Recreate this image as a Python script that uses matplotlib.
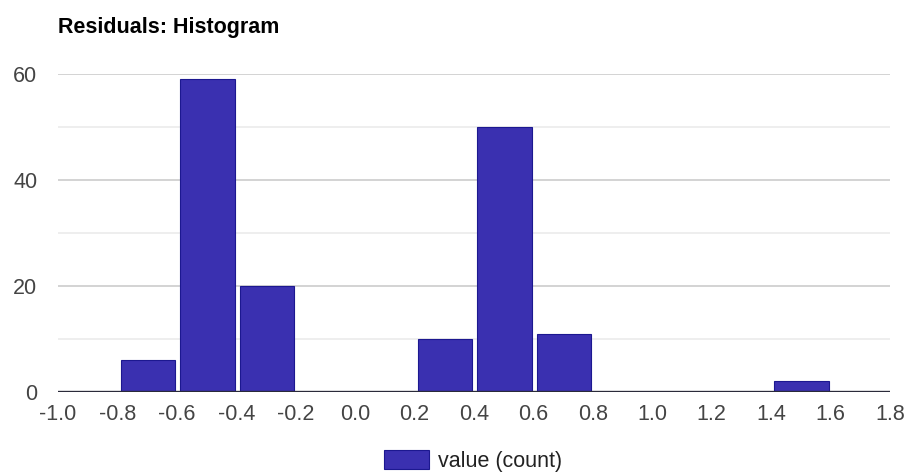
#!/usr/bin/env python3
"""Residuals histogram, Google Charts look."""

import matplotlib
matplotlib.use('Agg')
from matplotlib import pyplot as plt
from matplotlib.patches import Patch
import numpy as np

bin_edges = [-1.0, -0.8, -0.6, -0.4, -0.2, 0.0, 0.2, 0.4, 0.6, 0.8, 1.0, 1.2, 1.4, 1.6]
counts = [0, 6, 59, 20, 0, 0, 10, 50, 11, 0, 0, 0, 2, 0]
x_ticks = [-1.0, -0.8, -0.6, -0.4, -0.2, 0.0, 0.2, 0.4, 0.6, 0.8, 1.0, 1.2, 1.4, 1.6, 1.8]
y_major = [0, 20, 40, 60]
y_minor = [10, 30, 50]


def main():
    plt.rcParams['font.family'] = ['Liberation Sans', 'DejaVu Sans']
    fig = plt.figure(figsize=(9.1, 4.75), dpi=100)
    ax = fig.add_axes([58 / 910, 83 / 475, 832 / 910, 318 / 475])

    fill = '#3a30b0'
    edge = '#1c1890'
    lefts = np.array(bin_edges) + 0.011
    heights = np.array(counts)
    mask = heights > 0
    ax.bar(lefts[mask], heights[mask], width=0.183, align='edge',
           color=fill, edgecolor=edge, linewidth=0.8, zorder=3)

    ax.set_xlim(-1.0, 1.8)
    ax.set_ylim(0, 60)
    ax.set_xticks(x_ticks)
    ax.set_xticklabels(['{:.1f}'.format(v) for v in x_ticks])
    ax.set_yticks(y_major)
    ax.set_yticks(y_minor, minor=True)

    for v in y_major[1:]:
        ax.axhline(v, color='#cccccc', linewidth=1.2, zorder=1)
    for v in y_minor:
        ax.axhline(v, color='#ebebeb', linewidth=1.2, zorder=1)
    ax.axhline(0, color='#2a2a3a', linewidth=2.4, zorder=4)

    for side in ['top', 'right', 'left', 'bottom']:
        ax.spines[side].set_visible(False)
    ax.tick_params(axis='both', which='both', length=0, labelsize=15.5,
                   labelcolor='#444444')
    ax.tick_params(axis='x', pad=9)
    ax.tick_params(axis='y', pad=15)

    fig.text(58 / 910, 1 - 28 / 475, 'Residuals: Histogram', fontsize=15.5,
             fontweight='bold', color='#000000', va='center', ha='left')

    handle = Patch(facecolor=fill, edgecolor=edge, linewidth=0.8)
    fig.legend([handle], ['value (count)'], loc='center',
               bbox_to_anchor=(473 / 910, 1 - 461 / 475), frameon=False,
               fontsize=15.5, handlelength=2.1, handleheight=1.0,
               handletextpad=0.4, labelcolor='#222222')

    fig.savefig('out.png', dpi=100)


if __name__ == '__main__':
    main()
